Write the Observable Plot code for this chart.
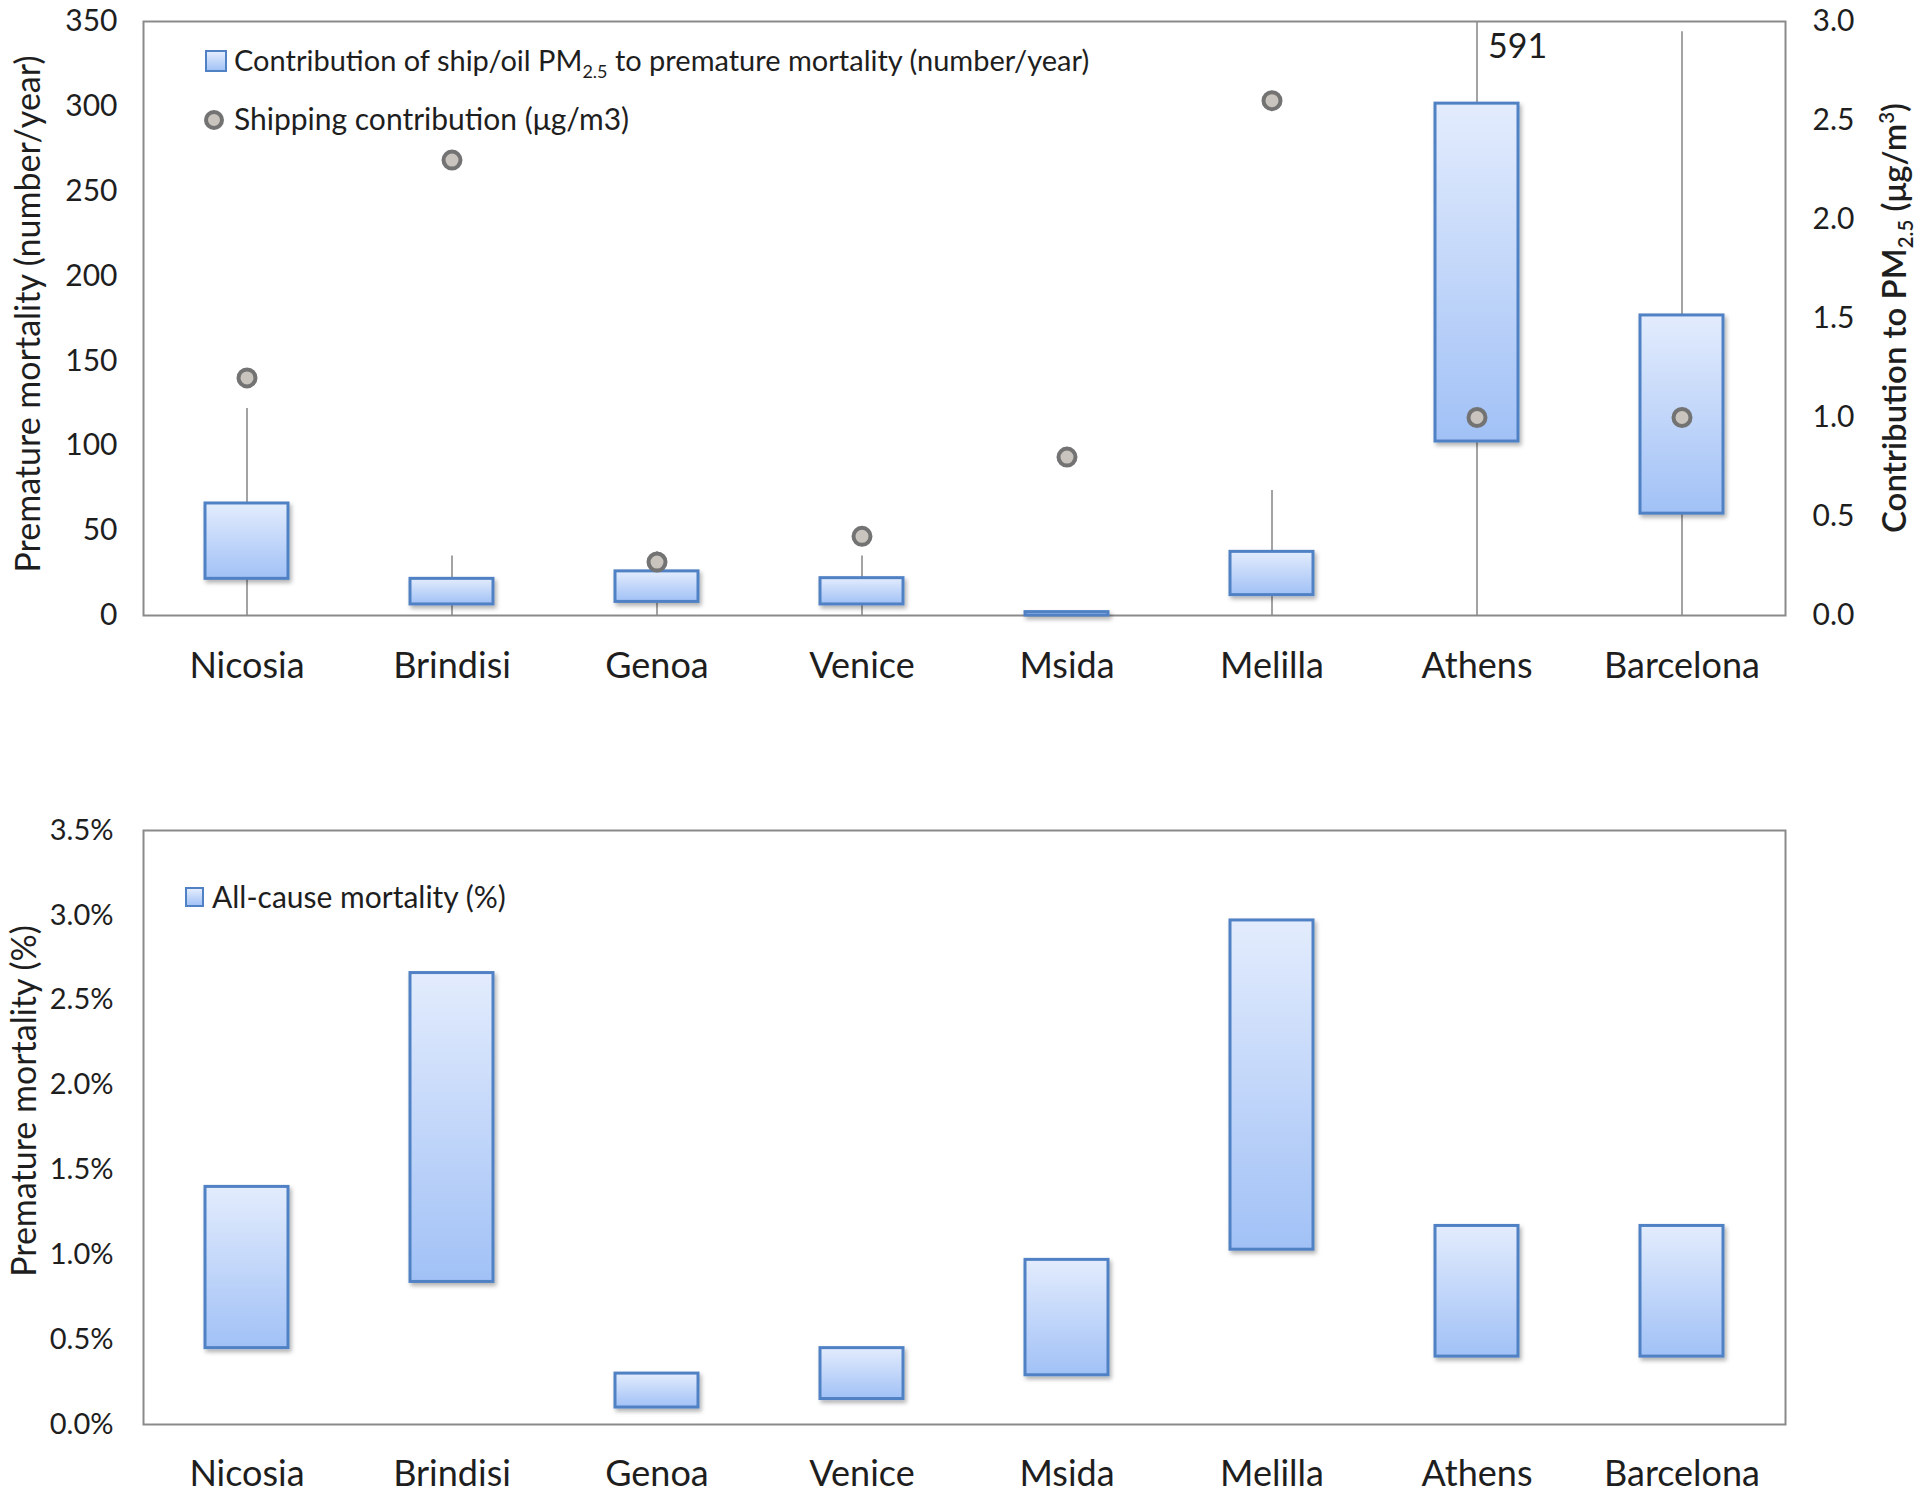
<!DOCTYPE html>
<html><head><meta charset="utf-8">
<script src="https://cdn.jsdelivr.net/npm/d3@7"></script>
<script src="https://cdn.jsdelivr.net/npm/@observablehq/plot@0.6"></script>
<style>
body{margin:0;background:#fff;font-family:Lato,"Noto Sans",sans-serif;}
#wrap{position:relative;width:1920px;height:1495px;overflow:hidden;}
.abs{position:absolute;white-space:nowrap;color:#1e1e1e;line-height:1;}
.rot{transform:translate(-50%,-50%) rotate(-90deg);}
sub,sup{font-size:0.62em;line-height:0;}
.sq{position:absolute;border:2.5px solid #4f81c4;background:linear-gradient(#e3ecfd,#a3c3f6);box-sizing:border-box;}
.dt{position:absolute;border-radius:50%;border:4px solid #737373;background:#c9c4bd;box-sizing:border-box;}
</style></head><body><div id="wrap"></div>
<script>
// ---- data ----
const cities = ["Nicosia","Brindisi","Genoa","Venice","Msida","Melilla","Athens","Barcelona"];
const boxLow    = [21.6, 6.5, 8, 6.5, 0, 12, 102.5, 60];
const boxHigh   = [66, 21.6, 26, 22, 2, 37.5, 301.6, 176.8];
const whiskLow  = [0, 0, 0, 0, 0, 0, 0, 0];
const whiskHigh = [122, 35, 37.5, 35, 2, 73.6, 591, 344];
const shipping  = [1.2, 2.3, 0.27, 0.4, 0.8, 2.6, 1.0, 1.0];
const pctLow    = [0.45, 0.84, 0.10, 0.15, 0.29, 1.03, 0.40, 0.40];
const pctHigh   = [1.40, 2.66, 0.30, 0.45, 0.97, 2.97, 1.17, 1.17];
const leftTicks  = [0, 50, 100, 150, 200, 250, 300, 350];
const rightTicks = [0, 0.5, 1.0, 1.5, 2.0, 2.5, 3.0];
const pctTicks   = [0, 0.5, 1.0, 1.5, 2.0, 2.5, 3.0, 3.5];
const annotation = [{city: "Athens", text: "591"}];

const leftMax = 350, rightMax = 3.0;
const toLeft = v => v * leftMax / rightMax;

const topData = cities.map((c, i) => ({city: c, lo: boxLow[i], hi: boxHigh[i], wlo: whiskLow[i], whi: whiskHigh[i], ship: shipping[i]}));
const botData = cities.map((c, i) => ({city: c, lo: pctLow[i], hi: pctHigh[i]}));

const FONT = "Lato, 'Noto Sans', sans-serif";
const INK = "#1e1e1e";
const FRAME = "#8a8a8a";
const BOXSTROKE = "#4f81c4";

function addDefs(svg, id) {
  const defs = d3.select(svg).insert("defs", ":first-child");
  const g = defs.append("linearGradient").attr("id", "grad" + id).attr("x1", 0).attr("y1", 0).attr("x2", 0).attr("y2", 1);
  g.append("stop").attr("offset", "0%").attr("stop-color", "#e3ecfd");
  g.append("stop").attr("offset", "100%").attr("stop-color", "#a1c1f6");
  const f = defs.append("filter").attr("id", "shadow" + id).attr("x", "-20%").attr("y", "-20%").attr("width", "140%").attr("height", "140%");
  f.append("feDropShadow").attr("dx", 2).attr("dy", 3).attr("stdDeviation", 2).attr("flood-color", "#000").attr("flood-opacity", 0.3);
  d3.select(svg).selectAll("g.boxes").attr("filter", `url(#shadow${id})`);
}

const wrap = document.getElementById("wrap");

// ---- top chart ----
const topPlot = Plot.plot({
  width: 1920, height: 700,
  marginTop: 21, marginBottom: 85, marginLeft: 143, marginRight: 135,
  style: {fontFamily: FONT, color: INK, background: "transparent"},
  x: {domain: cities, padding: 0, label: null},
  y: {domain: [0, leftMax], label: null},
  marks: [
    Plot.frame({stroke: FRAME, strokeWidth: 2}),
    Plot.ruleX(topData, {x: "city", y1: "wlo", y2: "whi", stroke: "#8c8c8c", strokeWidth: 1.6, clip: true}),
    Plot.barY(topData, {x: "city", y1: "lo", y2: "hi", insetLeft: 61, insetRight: 61,
      fill: "url(#gradTop)", stroke: BOXSTROKE, strokeWidth: 3, className: "boxes"}),
    Plot.dot(topData, {x: "city", y: d => toLeft(d.ship), r: 8.5, fill: "#c9c4bd", stroke: "#737373", strokeWidth: 4}),
    Plot.text(annotation, {x: "city", text: "text", frameAnchor: "top", textAnchor: "start", lineAnchor: "middle",
      dx: 11, dy: 26, fontSize: 34, fill: INK}),
    Plot.axisY(leftTicks, {anchor: "left", tickSize: 0, tickPadding: 26, fontSize: 30, label: null}),
    Plot.axisY(rightTicks.map(toLeft), {anchor: "right", tickSize: 0, tickPadding: 27, fontSize: 30, label: null,
      tickFormat: d => (d * rightMax / leftMax).toFixed(1)}),
    Plot.axisX({anchor: "bottom", tickSize: 0, tickPadding: 37, fontSize: 36, label: null})
  ]
});
topPlot.style.position = "absolute";
topPlot.style.left = "0px";
topPlot.style.top = "0px";
wrap.appendChild(topPlot);
addDefs(topPlot, "Top");

// ---- bottom chart ----
const botPlot = Plot.plot({
  width: 1920, height: 755,
  marginTop: 90, marginBottom: 71, marginLeft: 143, marginRight: 135,
  style: {fontFamily: FONT, color: INK, background: "transparent"},
  x: {domain: cities, padding: 0, label: null},
  y: {domain: [0, 3.5], label: null},
  marks: [
    Plot.frame({stroke: FRAME, strokeWidth: 2}),
    Plot.barY(botData, {x: "city", y1: "lo", y2: "hi", insetLeft: 61, insetRight: 61,
      fill: "url(#gradBot)", stroke: BOXSTROKE, strokeWidth: 3, className: "boxes"}),
    Plot.axisY(pctTicks, {anchor: "left", tickSize: 0, tickPadding: 30, fontSize: 29, label: null,
      tickFormat: d => d.toFixed(1) + "%"}),
    Plot.axisX({anchor: "bottom", tickSize: 0, tickPadding: 36, fontSize: 36, label: null})
  ]
});
botPlot.style.position = "absolute";
botPlot.style.left = "0px";
botPlot.style.top = "740px";
wrap.appendChild(botPlot);
addDefs(botPlot, "Bot");

// ---- titles & legends (HTML text) ----
function addText(html, css, cls) {
  const d = document.createElement("div");
  d.className = "abs " + (cls || "");
  d.innerHTML = html;
  Object.assign(d.style, css);
  wrap.appendChild(d);
  return d;
}
addText("Premature mortality (number/year)", {left: "27px", top: "314px", fontSize: "34px"}, "rot");
addText("Contribution to PM<sub>2.5</sub> (μg/m<sup>3</sup>)", {left: "1893px", top: "318px", fontSize: "33px", fontWeight: "600"}, "rot");
addText("Premature mortality (%)", {left: "23px", top: "1101px", fontSize: "34px"}, "rot");

const sq1 = document.createElement("div"); sq1.className = "sq";
Object.assign(sq1.style, {left: "205px", top: "50px", width: "22px", height: "22px"}); wrap.appendChild(sq1);
addText("Contribution of ship/oil PM<sub>2.5</sub> to premature mortality (number/year)", {left: "234px", top: "45px", fontSize: "29px"});
const dt1 = document.createElement("div"); dt1.className = "dt";
Object.assign(dt1.style, {left: "204px", top: "110px", width: "20px", height: "20px"}); wrap.appendChild(dt1);
addText("Shipping contribution (μg/m3)", {left: "234px", top: "103px", fontSize: "30px"});

const sq2 = document.createElement("div"); sq2.className = "sq";
Object.assign(sq2.style, {left: "185px", top: "887px", width: "19px", height: "20px"}); wrap.appendChild(sq2);
addText("All-cause mortality (%)", {left: "212px", top: "881px", fontSize: "30px"});
</script>
</body></html>
